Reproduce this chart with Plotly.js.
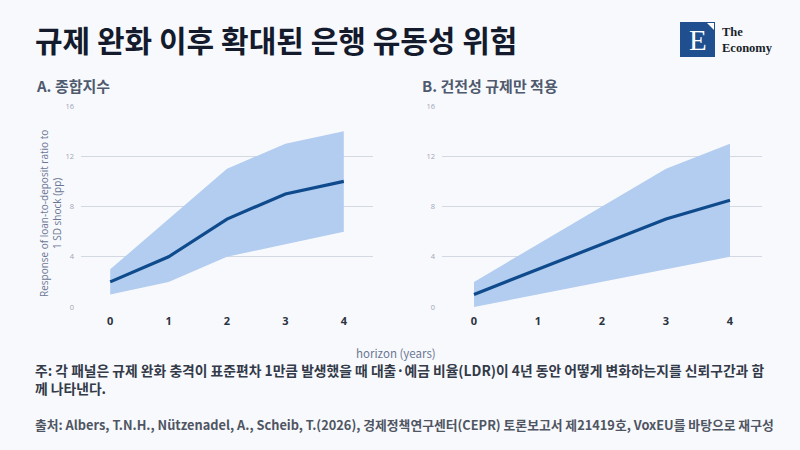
<!DOCTYPE html>
<html><head><meta charset="utf-8">
<script src="https://cdn.plot.ly/plotly-3.0.1.min.js"></script>
<style>html,body{margin:0;padding:0;background:#f8f9fd;}#chart{width:800px;height:450px;}</style>
</head><body><div id="chart"></div>
<script>
const horizon = [0, 1, 2, 3, 4];
const xTickLabels = ['0', '1', '2', '3', '4'];
const yTicks = [0, 4, 8, 12, 16];
// Panel A: 종합지수
const aMid = [2, 4, 7, 9, 10];
const aUpper = [3, 7, 11, 13, 14];
const aLower = [1, 2, 4, 5, 6];
// Panel B: 건전성 규제만 적용
const bMid = [1, 3, 5, 7, 8.5];
const bUpper = [2, 5, 8, 11, 13];
const bLower = [0, 1, 2, 3, 4];

const bandColor = '#b2cdef';
const lineColor = '#0e4a8c';
const kr = '"Noto Sans CJK KR", "Noto Sans", sans-serif';

function panel(lower, upper, mid, xa, ya) {
  return [
    {x: horizon, y: lower, xaxis: xa, yaxis: ya, mode: 'lines', line: {width: 0, color: bandColor}, hoverinfo: 'skip', showlegend: false},
    {x: horizon, y: upper, xaxis: xa, yaxis: ya, mode: 'lines', line: {width: 0, color: bandColor}, fill: 'tonexty', fillcolor: bandColor, showlegend: false},
    {x: horizon, y: mid, xaxis: xa, yaxis: ya, mode: 'lines', line: {width: 3.2, color: lineColor}, showlegend: false}
  ];
}

const data = [].concat(panel(aLower, aUpper, aMid, 'x', 'y'), panel(bLower, bUpper, bMid, 'x2', 'y2'));

const xAxisBase = {
  range: [-0.5, 4.5], tickvals: horizon, ticktext: xTickLabels, showgrid: false, zeroline: false,
  showline: false, ticks: '', tickfont: {family: 'Open Sans, sans-serif', size: 11, color: '#2b3240', weight: 'bold'},
  ticklabelstandoff: 6, fixedrange: true
};
const yAxisBase = {
  range: [0, 16], tickvals: yTicks, showgrid: true, gridcolor: '#d3d8e3', gridwidth: 1, zeroline: false,
  showline: false, ticks: '', tickfont: {family: 'Open Sans, sans-serif', size: 7.5, color: '#a0a6b4'},
  ticklabelstandoff: 6, fixedrange: true
};

function px(x) { return x / 800; }
function py(y) { return (450 - y) / 450; }

const layout = {
  width: 800, height: 450,
  margin: {l: 0, r: 0, t: 0, b: 0},
  paper_bgcolor: '#f8f9fd', plot_bgcolor: '#f8f9fd',
  showlegend: false,
  xaxis: Object.assign({}, xAxisBase, {domain: [px(81), px(373)], anchor: 'y'}),
  yaxis: Object.assign({}, yAxisBase, {domain: [py(307), py(106)], anchor: 'x'}),
  xaxis2: Object.assign({}, xAxisBase, {domain: [px(442), px(762)], anchor: 'y2'}),
  yaxis2: Object.assign({}, yAxisBase, {domain: [py(307), py(106)], anchor: 'x2'}),
  shapes: [
    {type: 'rect', xref: 'paper', yref: 'paper', x0: px(680), x1: px(715), y0: py(57), y1: py(22), fillcolor: '#1f4f8f', line: {width: 0}},
    {type: 'path', xref: 'paper', yref: 'paper', path: 'M ' + px(707) + ' ' + py(23) + ' L ' + px(714) + ' ' + py(23) + ' L ' + px(714) + ' ' + py(30) + ' Z', fillcolor: '#ffffff', line: {width: 0}}
  ],
  annotations: [
    {text: '<b>규제 완화 이후 확대된 은행 유동성 위험</b>', xref: 'paper', yref: 'paper', x: px(33), y: py(39), xanchor: 'left', yanchor: 'middle', showarrow: false, font: {family: kr, size: 30, color: '#141b2d'}},
    {text: '<b>A. 종합지수</b>', xref: 'paper', yref: 'paper', x: px(34), y: py(85), xanchor: 'left', yanchor: 'middle', showarrow: false, font: {family: kr, size: 15, color: '#4f5a6e'}},
    {text: '<b>B. 건전성 규제만 적용</b>', xref: 'paper', yref: 'paper', x: px(420), y: py(85), xanchor: 'left', yanchor: 'middle', showarrow: false, font: {family: kr, size: 15, color: '#4f5a6e'}},
    {text: 'Response of loan-to-deposit ratio to<br>1 SD shock (pp)', xref: 'paper', yref: 'paper', x: px(51), y: py(214), xanchor: 'center', yanchor: 'middle', textangle: -90, showarrow: false, font: {family: 'Open Sans, sans-serif', size: 10, color: '#6a7794'}},
    {text: 'horizon (years)', xref: 'paper', yref: 'paper', x: px(396), y: py(353), xanchor: 'center', yanchor: 'middle', showarrow: false, font: {family: kr, size: 11.5, color: '#6a7794'}},
    {text: '<b>주: 각 패널은 규제 완화 충격이 표준편차 1만큼 발생했을 때 대출·예금 비율(LDR)이 4년 동안 어떻게 변화하는지를 신뢰구간과 함</b>', xref: 'paper', yref: 'paper', x: px(33), y: py(370), xanchor: 'left', yanchor: 'middle', showarrow: false, font: {family: kr, size: 13.8, color: '#333a48'}},
    {text: '<b>께 나타낸다.</b>', xref: 'paper', yref: 'paper', x: px(33), y: py(388), xanchor: 'left', yanchor: 'middle', showarrow: false, font: {family: kr, size: 13.8, color: '#333a48'}},
    {text: '<b>출처: Albers, T.N.H., Nützenadel, A., Scheib, T.(2026), 경제정책연구센터(CEPR) 토론보고서 제21419호, VoxEU를 바탕으로 재구성</b>', xref: 'paper', yref: 'paper', x: px(33), y: py(424), xanchor: 'left', yanchor: 'middle', showarrow: false, font: {family: kr, size: 12.8, color: '#4f5562'}},
    {text: 'E', xref: 'paper', yref: 'paper', x: px(697.5), y: py(40), xanchor: 'center', yanchor: 'middle', showarrow: false, font: {family: 'Liberation Serif, serif', size: 29, color: '#ffffff'}},
    {text: '<b>The<br>Economy</b>', xref: 'paper', yref: 'paper', x: px(720), y: py(40), xanchor: 'left', yanchor: 'middle', align: 'left', showarrow: false, font: {family: 'Liberation Serif, serif', size: 12.5, color: '#1a1f2b'}}
  ]
};

Plotly.newPlot('chart', data, layout, {displayModeBar: false, staticPlot: true});
</script></body></html>
